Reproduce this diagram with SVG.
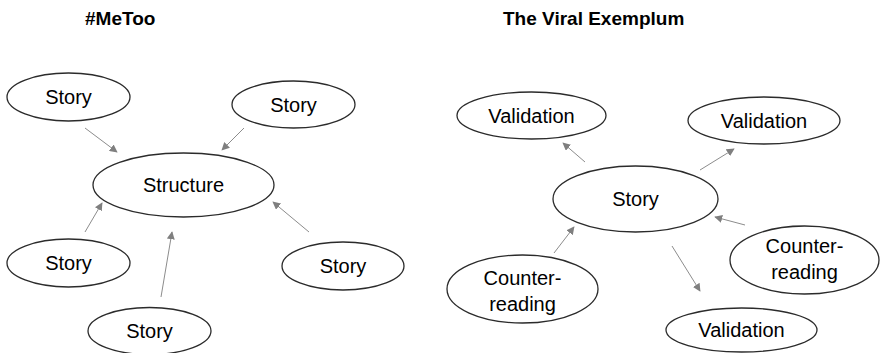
<svg xmlns="http://www.w3.org/2000/svg" width="880" height="353" viewBox="0 0 880 353">
<defs>
<marker id="ah" viewBox="0 0 10 10" refX="9" refY="5" markerWidth="8" markerHeight="8" markerUnits="userSpaceOnUse" orient="auto">
<path d="M0,0 L10,5 L0,10 z" fill="#7f7f7f"/>
</marker>
</defs>
<style>
.n ellipse{fill:#fff;stroke:#2b2b2b;stroke-width:1.3}
.n text{font-family:"Liberation Sans",Arial,sans-serif;font-size:20px;fill:#000;text-anchor:middle}
.t{font-family:"Liberation Sans",Arial,sans-serif;font-size:19px;font-weight:bold;fill:#000}
#edges line{stroke:#8c8c8c;stroke-width:1;marker-end:url(#ah)}
</style>
<rect width="880" height="353" fill="#fff"/>
<text class="t" x="85" y="25">#MeToo</text>
<text class="t" x="503" y="25">The Viral Exemplum</text>
<g id="edges">
<line x1="85" y1="128" x2="117" y2="152"/>
<line x1="244" y1="128" x2="222" y2="150"/>
<line x1="85" y1="232" x2="102" y2="203"/>
<line x1="161" y1="297" x2="172" y2="232"/>
<line x1="309" y1="232" x2="273" y2="202"/>
<line x1="585" y1="162" x2="563" y2="143"/>
<line x1="700" y1="170" x2="734" y2="149"/>
<line x1="554" y1="253" x2="574" y2="227"/>
<line x1="745" y1="225" x2="715" y2="217"/>
<line x1="672" y1="246" x2="700" y2="291"/>
</g>
<g id="story1" class="n"><ellipse cx="68.5" cy="97" rx="61.5" ry="24"/><text x="68.5" y="104">Story</text></g>
<g id="story2" class="n"><ellipse cx="293.5" cy="104.5" rx="61.5" ry="23.5"/><text x="293.5" y="111.5">Story</text></g>
<g id="structure" class="n"><ellipse cx="183.5" cy="185" rx="90.5" ry="32"/><text x="183.5" y="192">Structure</text></g>
<g id="story3" class="n"><ellipse cx="68.5" cy="263" rx="61.5" ry="24"/><text x="68.5" y="270">Story</text></g>
<g id="story4" class="n"><ellipse cx="149.5" cy="331" rx="61.5" ry="23.5"/><text x="149.5" y="338">Story</text></g>
<g id="story5" class="n"><ellipse cx="343" cy="266" rx="61" ry="24"/><text x="343" y="273">Story</text></g>
<g id="validation1" class="n"><ellipse cx="531.5" cy="115.5" rx="74.5" ry="23.5"/><text x="531.5" y="122.5">Validation</text></g>
<g id="validation2" class="n"><ellipse cx="764" cy="120.5" rx="76" ry="23.5"/><text x="764" y="127.5">Validation</text></g>
<g id="story-center" class="n"><ellipse cx="635.5" cy="199" rx="82.5" ry="33"/><text x="635.5" y="206">Story</text></g>
<g id="counter1" class="n"><ellipse cx="522.5" cy="289" rx="75.5" ry="34"/><text x="522.5" y="285">Counter-</text><text x="522.5" y="311">reading</text></g>
<g id="counter2" class="n"><ellipse cx="804.5" cy="260" rx="74.5" ry="34"/><text x="804.5" y="253">Counter-</text><text x="804.5" y="279">reading</text></g>
<g id="validation3" class="n"><ellipse cx="741.5" cy="330" rx="75.5" ry="22"/><text x="741.5" y="337">Validation</text></g>
</svg>
